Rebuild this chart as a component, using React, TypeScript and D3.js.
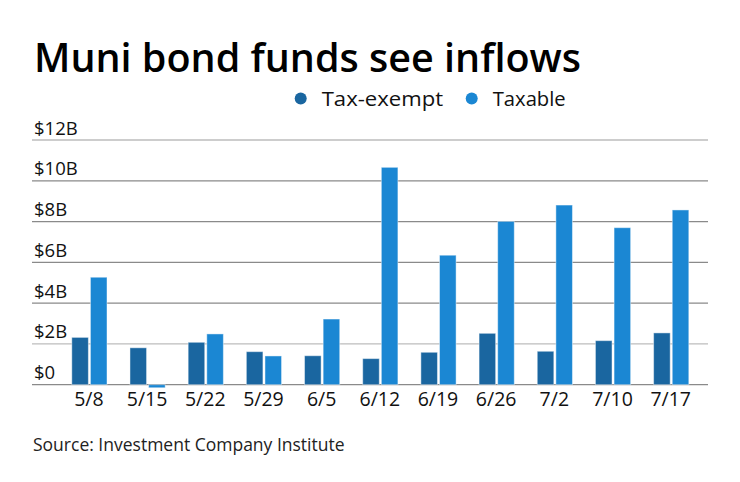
import React, { useEffect, useRef } from "react";
import * as d3 from "d3";

// weekly flows, billions of dollars
const dates = ["5/8", "5/15", "5/22", "5/29", "6/5", "6/12", "6/19", "6/26", "7/2", "7/10", "7/17"];
const taxExempt = [2.32, 1.81, 2.08, 1.62, 1.42, 1.28, 1.59, 2.52, 1.64, 2.16, 2.54];
const taxable = [5.27, -0.15, 2.49, 1.41, 3.22, 10.66, 6.35, 8.01, 8.81, 7.7, 8.57];
const seriesNames = ["Tax-exempt", "Taxable"];
const seriesColors = ["#1a66a0", "#1b87d3"];
const yTicks = [0, 2, 4, 6, 8, 10, 12];

const W = 740, H = 482;
const FONT = "'Open Sans', Lato, sans-serif";

export default function App() {
    const ref = useRef<SVGSVGElement>(null);

    useEffect(() => {
        const svg = d3.select(ref.current);
        svg.selectAll("*").remove();

        const gridLeft = 32, gridRight = 708;
        const y = d3.scaleLinear().domain([0, 12]).range([384.7, 140]);
        const x = d3.scaleBand<string>().domain(dates).range([60.3, 700.3]).padding(0);
        const xs = d3.scaleBand<string>().domain(seriesNames)
            .range([11.5, 46.7]).paddingInner(0.11);
        const color = d3.scaleOrdinal<string, string>().domain(seriesNames).range(seriesColors);

        // title
        svg.append("text")
            .attr("x", 34).attr("y", 72)
            .attr("font-family", FONT).attr("font-weight", 600)
            .attr("font-size", 40).attr("fill", "#000")
            .attr("textLength", 547).attr("lengthAdjust", "spacingAndGlyphs")
            .text("Muni bond funds see inflows");

        // legend
        const legendX = [300.7, 471.7];
        const legend = svg.append("g");
        seriesNames.forEach((name, i) => {
            legend.append("circle")
                .attr("cx", legendX[i]).attr("cy", 98.5).attr("r", 6)
                .attr("fill", color(name));
            legend.append("text")
                .attr("x", legendX[i] + 21).attr("y", 106)
                .attr("font-family", FONT).attr("font-size", 20.5).attr("fill", "#111")
                .attr("textLength", name === "Taxable" ? 73 : 121.5)
                .attr("lengthAdjust", "spacingAndGlyphs")
                .text(name);
        });

        // gridlines + y labels
        const grid = svg.append("g");
        grid.selectAll("line").data(yTicks).join("line")
            .attr("x1", gridLeft).attr("x2", gridRight)
            .attr("y1", d => y(d)).attr("y2", d => y(d))
            .attr("stroke", d => (d === 12 || d === 2) ? "#bdbdbd" : "#8a8a8a")
            .attr("stroke-width", 1.3);
        grid.selectAll("text").data(yTicks).join("text")
            .attr("x", 34).attr("y", d => y(d) - 5.5)
            .attr("font-family", FONT).attr("font-size", 18.5).attr("fill", "#111")
            .text(d => `$${d}${d === 0 ? "" : "B"}`);

        // bars
        const rows = dates.map((d, i) => ({ date: d, values: [taxExempt[i], taxable[i]] }));
        const groups = svg.append("g").selectAll("g").data(rows).join("g")
            .attr("transform", d => `translate(${x(d.date)},0)`);
        groups.selectAll("rect")
            .data(d => d.values.map((v, k) => ({ key: seriesNames[k], v })))
            .join("rect")
            .attr("x", d => xs(d.key)!)
            .attr("width", xs.bandwidth())
            .attr("y", d => y(Math.max(0, d.v)))
            .attr("height", d => Math.abs(y(d.v) - y(0)))
            .attr("fill", d => color(d.key))
            .attr("stroke", "rgba(255,255,255,0.45)")
            .attr("stroke-width", 1);

        // x labels
        svg.append("g").selectAll("text").data(dates).join("text")
            .attr("x", d => x(d)! + x.bandwidth() / 2 - 0.5)
            .attr("y", 406)
            .attr("text-anchor", "middle")
            .attr("font-family", FONT).attr("font-size", 19.5).attr("fill", "#111")
            .text(d => d);

        // source
        svg.append("text")
            .attr("x", 33).attr("y", 450.5)
            .attr("font-family", FONT).attr("font-size", 17.5).attr("fill", "#222")
            .text("Source: Investment Company Institute");
    }, []);

    return (
        <svg ref={ref} width={W} height={H}
             style={{ position: "absolute", left: 0, top: 0, background: "#fff" }} />
    );
}
